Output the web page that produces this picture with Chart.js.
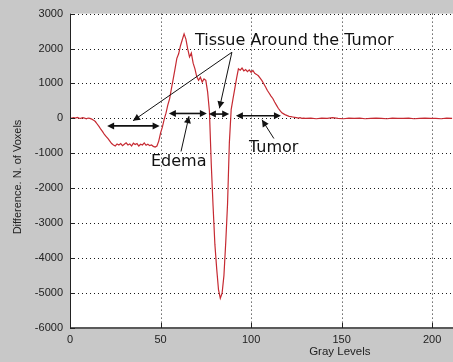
<!DOCTYPE html>
<html>
<head>
<meta charset="utf-8">
<script src="https://cdn.jsdelivr.net/npm/chart.js@4.4.1/dist/chart.umd.min.js"></script>
<style>
  html, body { margin: 0; padding: 0; background: #c8c8c8; }
  canvas { display: block; }
</style>
</head>
<body>
<canvas id="diffChart" width="453" height="362"></canvas>
<script>
// gray levels (x) and difference in number of voxels (y)
const grayLevels = [
  0, 1, 2, 3, 4, 5, 6, 7, 8, 9,
  10, 11, 12, 13, 14, 15, 16, 17, 18, 19,
  20, 21, 22, 23, 24, 25, 26, 27, 28, 29,
  30, 31, 32, 33, 34, 35, 36, 37, 38, 39,
  40, 41, 42, 43, 44, 45, 46, 47, 48, 49,
  50, 51, 52, 53, 54, 55, 56, 57, 58, 59,
  60, 61, 62, 63, 64, 65, 66, 67, 68, 69,
  70, 71, 72, 73, 74, 75, 76, 77, 78, 79,
  80, 81, 82, 83, 84, 85, 86, 87, 88, 89,
  90, 91, 92, 93, 94, 95, 96, 97, 98, 99,
  100, 101, 102, 103, 104, 105, 106, 107, 108, 109,
  110, 111, 112, 113, 114, 115, 116, 117, 118, 119,
  120, 121, 122, 123, 124, 125, 126, 127, 128, 129,
  130, 133, 136, 139, 142, 145, 148, 151, 154, 157,
  160, 163, 166, 169, 172, 175, 178, 181, 184, 187,
  190, 193, 196, 199, 202, 205, 208, 211
];
const voxelDifference = [
  0, 10, 20, 10, 30, 10, 0, 20, 10, -10,
  10, 0, -20, -50, -90, -160, -230, -310, -380, -460,
  -520, -580, -650, -720, -760, -790, -730, -760, -720, -780,
  -740, -700, -760, -730, -790, -710, -750, -720, -790, -740,
  -760, -700, -770, -740, -780, -760, -800, -820, -790, -650,
  -420, -250, -30, 150, 380, 560, 850, 1130, 1420, 1720,
  1850, 2080, 2250, 2420, 2270, 1990, 1760, 1870, 1580, 1420,
  1190, 1090, 1180, 1040, 1130, 1090, 760, 200, -1300, -2500,
  -3600, -4300, -4900, -5150, -5000, -4500, -3550, -2450, -700, 250,
  560, 850, 1150, 1420, 1380, 1440, 1360, 1400, 1340, 1390,
  1320, 1370, 1290, 1260, 1220, 1150, 1080, 990, 900, 800,
  720, 640, 570, 470, 380, 290, 220, 160, 130, 100,
  80, 60, 50, 40, 30, 20, 10, 20, 0, 10,
  0, 10, -10, 10, 0, 20, 0, -10, 10, 0,
  10, -10, 0, 10, 0, -10, 10, 0, 0, 10,
  -10, 0, 10, 0, 0, -10, 10, 0
];
const xTicks = [0, 50, 100, 150, 200];
const yTicks = [-6000, -5000, -4000, -3000, -2000, -1000, 0, 1000, 2000, 3000];

// annotations, in data units
const spanArrows = [[20.5, 49.5, -215], [54.6, 75.6, 141], [76.7, 87.9, 124], [91.6, 116.5, 76]];
const pointers = [
  [89.4, 1893, 34.8, -67],
  [89.4, 1893, 82.5, 289],
  [61.3, -946, 65.7, 62],
  [112.6, -576, 106, -38]
];
const labels = [
  ['Tissue Around the Tumor', 69, 2090],
  ['Edema', 44.7, -1372],
  ['Tumor', 98.8, -969]
];

const tickFont = { family: 'Liberation Sans, Arial, sans-serif', size: 11 };

function arrowHead(c, x0, y0, x1, y1) {
  const a = Math.atan2(y1 - y0, x1 - x0);
  const len = 7, w = 3.5;
  c.beginPath();
  c.moveTo(x1, y1);
  c.lineTo(x1 - len * Math.cos(a) + w * Math.sin(a), y1 - len * Math.sin(a) - w * Math.cos(a));
  c.lineTo(x1 - len * Math.cos(a) - w * Math.sin(a), y1 - len * Math.sin(a) + w * Math.cos(a));
  c.closePath();
  c.fill();
}

const matlabAxes = {
  id: 'matlabAxes',
  beforeDraw(chart) {
    const { ctx: c, chartArea: a } = chart;
    c.save();
    c.fillStyle = '#ffffff';
    c.fillRect(a.left, a.top, a.right - a.left, a.bottom - a.top);
    c.restore();
  },
  beforeDatasetsDraw(chart) {
    // dotted grid
    const { ctx: c, chartArea: a, scales } = chart;
    c.save();
    c.strokeStyle = '#1a1a1a';
    c.lineWidth = 1;
    c.setLineDash([1, 3]);
    c.beginPath();
    xTicks.slice(1).forEach(v => {
      const p = Math.round(scales.x.getPixelForValue(v)) + 0.5;
      c.moveTo(p, a.top);
      c.lineTo(p, a.bottom);
    });
    yTicks.slice(1).forEach(v => {
      const p = Math.round(scales.y.getPixelForValue(v)) + 0.5;
      c.moveTo(a.left, p);
      c.lineTo(a.right, p);
    });
    c.stroke();
    c.restore();
  },
  afterDraw(chart) {
    const { ctx: c, chartArea: a, scales } = chart;
    const xs = scales.x, ys = scales.y;
    c.save();
    // axis lines
    c.strokeStyle = '#5a5a5a';
    c.lineWidth = 2;
    c.beginPath();
    c.moveTo(a.left, a.bottom);
    c.lineTo(a.right, a.bottom);
    c.stroke();
    c.strokeStyle = '#222';
    c.lineWidth = 1;
    c.beginPath();
    c.moveTo(a.left + 0.5, a.top);
    c.lineTo(a.left + 0.5, a.bottom);
    c.stroke();
    // inward ticks
    c.beginPath();
    xTicks.forEach(v => {
      const p = Math.round(xs.getPixelForValue(v)) + 0.5;
      c.moveTo(p, a.bottom);
      c.lineTo(p, a.bottom - 5);
    });
    yTicks.forEach(v => {
      const p = Math.round(ys.getPixelForValue(v)) + 0.5;
      c.moveTo(a.left, p);
      c.lineTo(a.left + 5, p);
    });
    c.stroke();

    // axis titles
    c.fillStyle = '#222';
    c.font = '11.5px "Liberation Sans", Arial, sans-serif';
    c.textAlign = 'center';
    c.textBaseline = 'middle';
    c.fillText('Gray Levels', xs.getPixelForValue(149), 352);
    c.save();
    c.translate(18, 177);
    c.rotate(-Math.PI / 2);
    c.font = '11px "Liberation Sans", Arial, sans-serif';
    c.fillText('Difference. N. of Voxels', 0, 0);
    c.restore();

    // annotations
    c.strokeStyle = '#111';
    c.fillStyle = '#111';
    c.lineWidth = 1.6;
    spanArrows.forEach(([x0, x1, y]) => {
      const p0 = xs.getPixelForValue(x0), p1 = xs.getPixelForValue(x1), py = ys.getPixelForValue(y);
      c.beginPath();
      c.moveTo(p0 + 4, py);
      c.lineTo(p1 - 4, py);
      c.stroke();
      arrowHead(c, p1 - 8, py, p1, py);
      arrowHead(c, p0 + 8, py, p0, py);
    });
    c.lineWidth = 1;
    pointers.forEach(([x0, y0, x1, y1]) => {
      const px0 = xs.getPixelForValue(x0), py0 = ys.getPixelForValue(y0);
      const px1 = xs.getPixelForValue(x1), py1 = ys.getPixelForValue(y1);
      c.beginPath();
      c.moveTo(px0, py0);
      c.lineTo(px1, py1);
      c.stroke();
      arrowHead(c, px0, py0, px1, py1);
    });
    c.font = '16px "DejaVu Sans", Verdana, sans-serif';
    c.textAlign = 'left';
    c.textBaseline = 'alphabetic';
    labels.forEach(([t, x, y]) => {
      c.fillText(t, xs.getPixelForValue(x), ys.getPixelForValue(y));
    });
    c.restore();
  }
};

const ctx = document.getElementById('diffChart').getContext('2d');
const diffChart = new Chart(ctx, {
  type: 'line',
  data: {
    datasets: [{
      data: grayLevels.map((g, i) => ({ x: g, y: voxelDifference[i] })),
      borderColor: '#c62a32',
      borderWidth: 1.2,
      pointRadius: 0,
      tension: 0,
      fill: false
    }]
  },
  options: {
    responsive: false,
    animation: false,
    layout: { padding: { top: 11, right: 0, bottom: 0, left: 0 } },
    plugins: { legend: { display: false }, tooltip: { enabled: false } },
    scales: {
      x: {
        type: 'linear',
        min: 0,
        max: 211.5,
        afterFit(s) { s.height = 34; },
        afterBuildTicks(s) { s.ticks = xTicks.map(v => ({ value: v })); },
        ticks: { color: '#222', font: tickFont, padding: 5, maxRotation: 0, callback: v => String(v) },
        grid: { display: false, drawTicks: false },
        border: { display: false }
      },
      y: {
        min: -6000,
        max: 3000,
        afterFit(s) { s.width = 70; },
        afterBuildTicks(s) { s.ticks = yTicks.map(v => ({ value: v })); },
        ticks: { color: '#222', font: tickFont, padding: 7, callback: v => String(v) },
        grid: { display: false, drawTicks: false },
        border: { display: false }
      }
    }
  },
  plugins: [matlabAxes]
});
</script>
</body>
</html>
